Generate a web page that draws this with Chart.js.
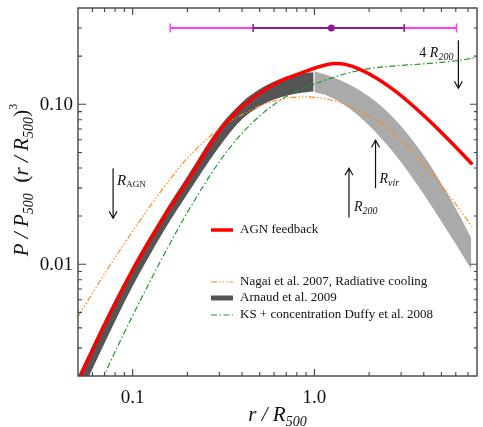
<!DOCTYPE html>
<html>
<head>
<meta charset="utf-8">
<script src="https://cdn.jsdelivr.net/npm/chart.js@4.4.1/dist/chart.umd.min.js"></script>
<style>
  html, body { margin: 0; padding: 0; background: #fff; }
  #wrap { width: 483px; height: 427px; }
</style>
</head>
<body>
<div id="wrap"><canvas id="prof" width="483" height="427"></canvas></div>
<script>
// Scaled pressure profiles P/P500 (r/R500)^3 vs r/R500, log-log.
const X_MIN = 0.05, X_MAX = 7.85, Y_MIN = 0.002, Y_MAX = 0.4;

const xTickVals = [0.1, 1.0];
const xTickLabels = ["0.1", "1.0"];
const yTickVals = [0.01, 0.1];
const yTickLabels = ["0.01", "0.10"];

// AGN feedback run
const agnR = [0.05, 0.07, 0.1, 0.15, 0.2, 0.3, 0.4, 0.5, 0.6, 0.7, 0.8, 0.9, 1.0, 1.15, 1.3, 1.5, 1.78, 2.2, 2.72, 3.3, 4.11, 5.0, 6.2, 7.4];
const agnP = [0.00185, 0.0042, 0.0092, 0.0201, 0.033, 0.068, 0.0965, 0.117, 0.133, 0.145, 0.153, 0.161, 0.168, 0.176, 0.18, 0.177, 0.1653, 0.1456, 0.1234, 0.1033, 0.0826, 0.0666, 0.052, 0.0421];

// Nagai et al. 2007, radiative cooling
const nagaiR = [0.05, 0.07, 0.1, 0.15, 0.2, 0.3, 0.4, 0.5, 0.6, 0.7, 0.8, 0.9, 1.0, 1.3, 1.6, 2.0, 2.5, 3.0, 4.0, 5.0, 6.0, 7.4];
const nagaiP = [0.0047, 0.0087, 0.0161, 0.0307, 0.046, 0.0704, 0.0861, 0.0974, 0.1048, 0.1089, 0.1108, 0.1112, 0.1104, 0.1048, 0.0964, 0.0847, 0.0712, 0.0595, 0.0424, 0.0311, 0.0237, 0.0171];

// KS + Duffy et al. 2008 concentration
const ksR = [0.068, 0.075, 0.1, 0.15, 0.2, 0.3, 0.4, 0.5, 0.6, 0.7, 0.8, 1.0, 1.5, 2.0, 3.0, 4.0, 5.0, 6.0, 7.0, 7.85];
const ksP = [0.0019, 0.00243, 0.00477, 0.0117, 0.0211, 0.0438, 0.0659, 0.0846, 0.0997, 0.1117, 0.121, 0.1337, 0.156, 0.167, 0.175, 0.179, 0.183, 0.187, 0.192, 0.197];

// Arnaud et al. 2009 envelope: measured range (r < R500) and extrapolation
const arnaudInR = [0.05, 0.07, 0.1, 0.15, 0.2, 0.3, 0.4, 0.5, 0.6, 0.7, 0.8, 0.9, 0.99];
const arnaudInHi = [0.0020, 0.0044, 0.0097, 0.0213, 0.0355, 0.072, 0.103, 0.1245, 0.139, 0.148, 0.154, 0.157, 0.1585];
const arnaudInLo = [0.00142, 0.0032, 0.0073, 0.0165, 0.0275, 0.0545, 0.081, 0.097, 0.107, 0.113, 0.117, 0.119, 0.12];
const arnaudOutR = [1.0, 1.18, 1.4, 1.78, 2.2, 2.72, 3.3, 4.11, 5.0, 6.2, 7.3];
const arnaudOutHi = [0.161, 0.152, 0.1407, 0.1219, 0.1029, 0.0823, 0.0641, 0.0456, 0.032, 0.0208, 0.0145];
const arnaudOutLo = [0.119, 0.1132, 0.1022, 0.0833, 0.066, 0.0501, 0.0375, 0.0261, 0.0185, 0.0126, 0.0093];

// error bar across the top
const errY = 0.3;
const errOuter = [0.161, 6.06];
const errInner = [0.46, 3.12];
const errCentre = 1.24;

// radius markers: x, arrow start, arrow end
const arrowR = [0.078, 1.55, 2.17, 6.2];
const arrowFrom = [0.0398, 0.0196, 0.0299, 0.251];
const arrowTo = [0.0194, 0.0398, 0.0596, 0.126];

const legendLabels = ["AGN feedback", "Nagai et al. 2007, Radiative cooling", "Arnaud et al. 2009", "KS + concentration Duffy et al. 2008"];

const RED = "#ff0000", ORANGE = "#ff8c1a", GREEN = "#22962a", DARK = "#555555", LIGHT = "#aaaaaa";
const MAGENTA = "#ff3cff", PURPLE = "#8e1a8e";
const SERIF = '"Liberation Serif", "DejaVu Serif", serif';
const ORANGE_DASH = [6, 2, 1.5, 2, 1.5, 2, 1.5, 2];
const GREEN_DASH = [6, 2.5, 1.5, 2.5];

const pts = (xs, ys) => xs.map((x, i) => ({ x, y: ys[i] }));

function curve(data, color, width, dash, order) {
  return { data, borderColor: color, borderWidth: width, borderDash: dash || [],
    pointRadius: 0, fill: false, cubicInterpolationMode: "monotone", order, clip: 0 };
}
function bandEdge(data, color, fillPrev, order) {
  return { data, borderColor: "rgba(0,0,0,0)", borderWidth: 0, backgroundColor: color,
    pointRadius: 0, fill: fillPrev ? "-1" : false, cubicInterpolationMode: "monotone", order, clip: 0 };
}

// draws a run of text pieces with their own fonts and baseline shifts
function rich(ctx, x, y, parts, align) {
  let w = 0;
  parts.forEach((p) => { ctx.font = p.f; w += ctx.measureText(p.t).width; });
  let cx = align === "center" ? x - w / 2 : align === "right" ? x - w : x;
  ctx.textAlign = "left";
  ctx.textBaseline = "alphabetic";
  parts.forEach((p) => {
    ctx.font = p.f;
    ctx.fillText(p.t, cx, y + (p.dy || 0));
    cx += ctx.measureText(p.t).width;
  });
}

function arrow(ctx, x, y0, y1) {
  const dir = y1 > y0 ? 1 : -1;
  ctx.beginPath();
  ctx.moveTo(x, y0); ctx.lineTo(x, y1);
  ctx.moveTo(x - 4, y1 - dir * 7); ctx.lineTo(x, y1); ctx.lineTo(x + 4, y1 - dir * 7);
  ctx.stroke();
}

const decor = {
  id: "decor",
  afterDraw(chart) {
    const { ctx, chartArea: a } = chart;
    const xs = chart.scales.x, ys = chart.scales.y;
    ctx.save();

    // frame and inward ticks on all four sides
    ctx.strokeStyle = "#444";
    ctx.lineWidth = 1.4;
    ctx.strokeRect(a.left, a.top, a.right - a.left, a.bottom - a.top);
    ctx.lineWidth = 1.1;
    ctx.beginPath();
    for (let d = 0.01; d <= 10; d *= 10) {
      for (let k = 1; k <= 9; k++) {
        const v = k * d, len = k === 1 ? 7 : 4;
        if (v > X_MIN * 1.001 && v < X_MAX * 0.999) {
          const px = xs.getPixelForValue(v);
          ctx.moveTo(px, a.bottom); ctx.lineTo(px, a.bottom - len);
          ctx.moveTo(px, a.top); ctx.lineTo(px, a.top + len);
        }
      }
    }
    for (let d = 0.001; d <= 1; d *= 10) {
      for (let k = 1; k <= 9; k++) {
        const v = k * d, len = k === 1 ? 8 : 4;
        if (v > Y_MIN * 1.001 && v < Y_MAX * 0.999) {
          const py = ys.getPixelForValue(v);
          ctx.moveTo(a.left, py); ctx.lineTo(a.left + len, py);
          ctx.moveTo(a.right, py); ctx.lineTo(a.right - len + 1, py);
        }
      }
    }
    ctx.stroke();

    // tick labels
    ctx.fillStyle = "#111";
    ctx.font = `19px ${SERIF}`;
    ctx.textAlign = "center";
    ctx.textBaseline = "alphabetic";
    xTickVals.forEach((v, i) => ctx.fillText(xTickLabels[i], xs.getPixelForValue(v), a.bottom + 27));
    ctx.textAlign = "right";
    ctx.textBaseline = "middle";
    yTickVals.forEach((v, i) => ctx.fillText(yTickLabels[i], a.left - 5, ys.getPixelForValue(v) + 1));

    // axis titles
    const it = (s) => `italic ${s}px ${SERIF}`;
    rich(ctx, (a.left + a.right) / 2, 421, [
      { t: "r / R", f: it(21) }, { t: "500", f: it(14), dy: 5 }], "center");
    ctx.save();
    ctx.translate(28, 180);
    ctx.rotate(-Math.PI / 2);
    rich(ctx, 0, 0, [
      { t: "P / P", f: it(21) }, { t: "500", f: it(14), dy: 5 }, { t: "  ", f: it(21) },
      { t: "(", f: `22px ${SERIF}` }, { t: "r / R", f: it(21) }, { t: "500", f: it(14), dy: 5 },
      { t: ")", f: `22px ${SERIF}` }, { t: "3", f: `12px ${SERIF}`, dy: -11 }], "center");
    ctx.restore();

    // radius markers
    ctx.strokeStyle = "#111";
    ctx.lineWidth = 1.2;
    const ax = arrowR.map((r) => xs.getPixelForValue(r));
    const a0 = arrowFrom.map((p) => ys.getPixelForValue(p));
    const a1 = arrowTo.map((p) => ys.getPixelForValue(p));
    ax.forEach((x, i) => arrow(ctx, x, a0[i], a1[i]));
    ctx.fillStyle = "#111";
    rich(ctx, ax[0] + 4, a0[0] + 17, [{ t: "R", f: it(15) }, { t: "AGN", f: `9px ${SERIF}`, dy: 2 }], "left");
    rich(ctx, ax[1] + 5, a0[1] - 6, [{ t: "R", f: it(14) }, { t: "200", f: it(10), dy: 3 }], "left");
    rich(ctx, ax[2] + 4, a0[2] - 5, [{ t: "R", f: it(14) }, { t: "vir", f: it(10), dy: 3 }], "left");
    rich(ctx, ax[3] - 5, a0[3] + 17, [{ t: "4 ", f: `14px ${SERIF}` }, { t: "R", f: it(14) }, { t: "200", f: it(10), dy: 3 }], "right");

    // legend
    const lx0 = 211, lx1 = 233, tx = 240;
    const rows = [233, 285, 301, 318];
    const styles = [[RED, 3.5, []], [ORANGE, 1.2, ORANGE_DASH], [DARK, 5, []], [GREEN, 1.2, GREEN_DASH]];
    rows.forEach((yb, i) => {
      const [c, w, dash] = styles[i];
      ctx.strokeStyle = c; ctx.lineWidth = w; ctx.setLineDash(dash);
      ctx.beginPath(); ctx.moveTo(lx0, yb - 3); ctx.lineTo(lx1, yb - 3); ctx.stroke();
      ctx.setLineDash([]);
      ctx.fillStyle = "#111";
      ctx.font = `13px ${SERIF}`;
      ctx.textAlign = "left"; ctx.textBaseline = "alphabetic";
      ctx.fillText(legendLabels[i], tx, yb);
    });
    ctx.restore();
  },
};

new Chart(document.getElementById("prof"), {
  type: "line",
  data: {
    datasets: [
      { data: [{ x: errCentre, y: errY }], showLine: false, pointStyle: "circle", pointRadius: 3.5,
        pointBackgroundColor: PURPLE, pointBorderWidth: 0, order: 0 },
      { data: errInner.map((x) => ({ x, y: errY })), borderColor: PURPLE, borderWidth: 2,
        pointStyle: "line", pointRotation: 90, pointRadius: 4, pointBorderWidth: 1.5,
        pointBorderColor: PURPLE, order: 1 },
      { data: errOuter.map((x) => ({ x, y: errY })), borderColor: MAGENTA, borderWidth: 2,
        pointStyle: "line", pointRotation: 90, pointRadius: 4.5, pointBorderWidth: 1.5,
        pointBorderColor: MAGENTA, order: 2 },
      curve(pts(agnR, agnP), RED, 3.5, null, 3),
      curve(pts(ksR, ksP), GREEN, 1.2, GREEN_DASH, 4),
      curve(pts(nagaiR, nagaiP), ORANGE, 1.2, ORANGE_DASH, 5),
      bandEdge(pts(arnaudInR, arnaudInHi), DARK, false, 10),
      bandEdge(pts(arnaudInR, arnaudInLo), DARK, true, 10),
      bandEdge(pts(arnaudOutR, arnaudOutHi), LIGHT, false, 11),
      bandEdge(pts(arnaudOutR, arnaudOutLo), LIGHT, true, 11),
    ],
  },
  options: {
    responsive: false,
    animation: false,
    devicePixelRatio: 1,
    layout: { padding: { left: 78, right: 1.5, top: 8, bottom: 51 } },
    plugins: { legend: { display: false }, tooltip: { enabled: false } },
    scales: {
      x: { type: "logarithmic", min: X_MIN, max: X_MAX, display: false },
      y: { type: "logarithmic", min: Y_MIN, max: Y_MAX, display: false },
    },
  },
  plugins: [decor],
});
</script>
</body>
</html>
